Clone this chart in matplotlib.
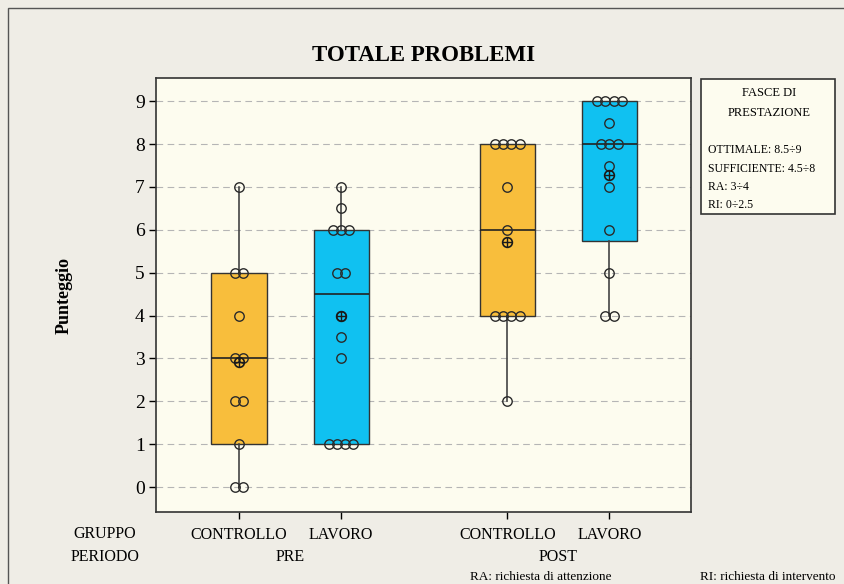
import numpy as np
import matplotlib
matplotlib.use("Agg")
from matplotlib import pyplot as plt
from matplotlib.patches import Rectangle

plt.rcParams['font.family'] = ['Liberation Serif', 'DejaVu Serif']

# dati
gruppi = ['CONTROLLO', 'LAVORO', 'CONTROLLO', 'LAVORO']
periodi = ['PRE', 'POST']
pre_controllo = [0, 0, 1, 2, 2, 3, 3, 4, 5, 5, 7]
pre_lavoro = [1, 1, 1, 1, 3, 3.5, 4, 5, 5, 6, 6, 6, 6.5, 7]
post_controllo = [2, 4, 4, 4, 4, 6, 7, 8, 8, 8, 8]
post_lavoro = [4, 4, 5, 6, 7, 7.5, 8, 8, 8, 8.5, 9, 9, 9, 9]
serie = [pre_controllo, pre_lavoro, post_controllo, post_lavoro]
colori = ['#f8be3c', '#10c1f1', '#f8be3c', '#10c1f1']
legenda = ['OTTIMALE: 8.5÷9', 'SUFFICIENTE: 4.5÷8', 'RA: 3÷4', 'RI: 0÷2.5']

pos = [1, 2, 3.63, 4.63]
larg = 0.54
passo = 0.08

fig = plt.figure(figsize=(8.44, 5.84), dpi=100)
fig.patch.set_facecolor('#efede6')
ax = fig.add_axes([0.1848, 0.1233, 0.634, 0.743])
ax.set_facecolor('#fdfcef')

# statistiche del boxplot (quartili alla Minitab)
stats = []
for d in serie:
    d = np.array(d, dtype=float)
    q1, med, q3 = np.percentile(d, [25, 50, 75], method='weibull')
    stats.append(dict(med=med, q1=q1, q3=q3, whislo=d.min(), whishi=d.max(), fliers=[]))

bp = ax.bxp(stats, positions=pos, widths=larg, patch_artist=True, showcaps=False,
            boxprops=dict(edgecolor='#333333', linewidth=1.0),
            whiskerprops=dict(color='#444444', linewidth=1.2),
            medianprops=dict(color='#222222', linewidth=1.2), zorder=2)
for b, c in zip(bp['boxes'], colori):
    b.set_facecolor(c)

# punti individuali affiancati
for p, d in zip(pos, serie):
    vals, cnt = np.unique(d, return_counts=True)
    for v, k in zip(vals, cnt):
        xs = p + (np.arange(k) - (k - 1) / 2) * passo
        ax.plot(xs, [v] * k, 'o', ms=6.8, mfc='none', mec='#2a2a2a', mew=1.0, zorder=4)
    m = np.mean(d)
    ax.plot(p, m, 'o', ms=7, mfc='none', mec='#1a1a1a', mew=1.2, zorder=5)
    ax.plot(p, m, '+', ms=7, mec='#1a1a1a', mew=1.0, zorder=5)

ax.set_xlim(0.186, 5.43)
ax.set_ylim(-0.58, 9.54)
ax.set_yticks(np.arange(0, 10))
ax.tick_params(axis='y', labelsize=14, length=5, width=1, direction='out', pad=3)
ax.set_xticks(pos)
ax.set_xticklabels(gruppi, fontsize=11.5)
ax.tick_params(axis='x', length=5, width=1, direction='out', pad=6)
ax.yaxis.grid(True, linestyle=(0, (6, 4)), color='#b5b5b5', linewidth=0.8)
ax.set_axisbelow(True)
for s in ax.spines.values():
    s.set_linewidth(1.2)
    s.set_color('#333333')

ax.set_ylabel('Punteggio', fontsize=13, fontweight='bold', labelpad=45)
ax.set_title('TOTALE PROBLEMI', fontsize=16.5, fontweight='bold', pad=12)

# etichette del periodo
tr = ax.get_xaxis_transform()
ax.text((pos[0] + pos[1]) / 2, -0.104, periodi[0], transform=tr, ha='center', va='center', fontsize=11.5)
ax.text((pos[2] + pos[3]) / 2, -0.104, periodi[1], transform=tr, ha='center', va='center', fontsize=11.5)
fig.text(105 / 844, 1 - 534 / 584, 'GRUPPO', ha='center', va='center', fontsize=11.5)
fig.text(105 / 844, 1 - 557 / 584, 'PERIODO', ha='center', va='center', fontsize=11.5)
fig.text(541 / 844, 1 - 577 / 584, 'RA: richiesta di attenzione', ha='center', va='center', fontsize=9.5)
fig.text(768 / 844, 1 - 577 / 584, 'RI: richiesta di intervento', ha='center', va='center', fontsize=9.5)

# riquadro fasce di prestazione
fig.patches.append(Rectangle((701 / 844, 1 - 214 / 584), 134 / 844, 135 / 584, transform=fig.transFigure,
                             facecolor='#fdfcef', edgecolor='#333333', linewidth=1.2))
fig.text(769 / 844, 1 - 93 / 584, 'FASCE DI', ha='center', va='center', fontsize=9)
fig.text(769 / 844, 1 - 113 / 584, 'PRESTAZIONE', ha='center', va='center', fontsize=9)
for i, t in enumerate(legenda):
    fig.text(708 / 844, 1 - (150 + i * 18.5) / 584, t, ha='left', va='center', fontsize=8.5)

# bordo esterno
fig.patches.append(Rectangle((8 / 844, -0.1), 1.2, 1.1 - 8 / 584, transform=fig.transFigure,
                             facecolor='none', edgecolor='#555555', linewidth=1.0))

fig.savefig('out.png', dpi=100, facecolor=fig.get_facecolor())
